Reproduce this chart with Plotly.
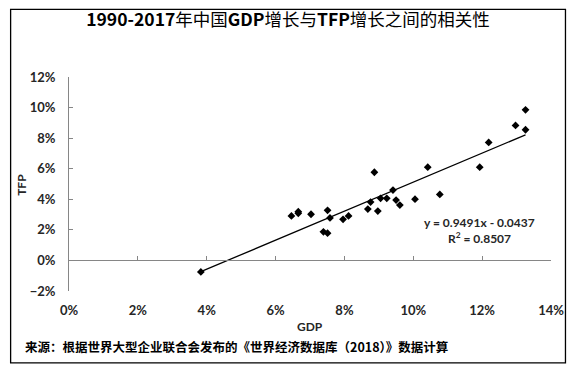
import plotly.graph_objects as go

# ---- data (percent) ----
gdp_growth = [3.83, 6.46, 6.66, 6.66, 7.03, 7.51, 7.58, 7.39, 7.51, 7.96, 8.12, 8.68, 8.76, 8.87,
              8.97, 9.05, 9.23, 9.41, 9.50, 9.61, 10.05, 10.42, 10.77, 11.93, 12.19, 12.97, 13.26, 13.26]
tfp_growth = [-0.75, 2.91, 3.19, 3.08, 3.02, 3.28, 2.78, 1.87, 1.78, 2.69, 2.91, 3.36, 3.82, 5.77,
              3.23, 4.06, 4.06, 4.60, 3.95, 3.62, 4.01, 6.10, 4.32, 6.10, 7.72, 8.83, 9.85, 8.55]
slope = 0.9491
intercept = -0.0437
r_squared = 0.8507
x_ticks = [0, 0.02, 0.04, 0.06, 0.08, 0.10, 0.12, 0.14]
y_ticks = [-0.02, 0, 0.02, 0.04, 0.06, 0.08, 0.10, 0.12]

title_text = "<b>1990-2017</b>年中国<b>GDP</b>增长与<b>TFP</b>增长之间的相关性"
source_text = "来源：根据世界大型企业联合会发布的《世界经济数据库（2018）》数据计算"

x = [v / 100 for v in gdp_growth]
y = [v / 100 for v in tfp_growth]
x_fit = [min(x), max(x)]
y_fit = [slope * v + intercept for v in x_fit]

# page body has an 8px margin; figure is placed at (8, 8) in the window
OFF = 8
W, H = 575 - OFF, 371 - OFF
L, R, T, B = 68.5 - OFF, 551.5 - OFF, 76.5 - OFF, 291.0 - OFF
pw, ph = R - L, B - T


def px(xp):
    return (xp - OFF - L) / pw


def py(yp):
    return (B - (yp - OFF)) / ph


AXC = "#868686"
TXT = "#262626"
tick_font = dict(family="Lato, 'Noto Sans', sans-serif", size=13, color=TXT, weight="bold")

fig = go.Figure()
fig.add_trace(go.Scatter(x=x_fit, y=y_fit, mode="lines", xaxis="x2", yaxis="y",
                         line=dict(color="#000000", width=1.3), hoverinfo="skip", showlegend=False))
fig.add_trace(go.Scatter(x=x, y=y, mode="markers",
                         marker=dict(symbol="diamond", size=6, color="#000000"),
                         showlegend=False))

y_lo, y_hi = y_ticks[0], y_ticks[-1]
fig.update_layout(
    width=W, height=H,
    margin=dict(l=L, r=W - R, t=T, b=H - B),
    paper_bgcolor="white", plot_bgcolor="white",
    title=dict(text=title_text, x=px(288), xref="paper", xanchor="center",
               y=1 - (20 - OFF) / H, yref="container", yanchor="middle",
               font=dict(family="'Noto Sans CJK SC', sans-serif", size=17.5, color="#000000")),
    xaxis=dict(range=[x_ticks[0], x_ticks[-1]], tickvals=x_ticks, tickformat=".0%",
               showline=False, ticks="", showgrid=False, zeroline=False,
               tickfont=tick_font, ticklabelstandoff=10),
    xaxis2=dict(range=[x_ticks[0], x_ticks[-1]], tickvals=x_ticks, overlaying="x",
                anchor="free", position=(0 - y_lo) / (y_hi - y_lo), side="bottom",
                showline=True, linecolor=AXC, linewidth=1, ticks="inside", ticklen=4,
                tickcolor=AXC, showticklabels=False, showgrid=False, zeroline=False),
    yaxis=dict(range=[y_lo, y_hi], tickvals=y_ticks, tickformat=".0%",
               showline=True, linecolor=AXC, linewidth=1, ticks="inside", ticklen=4,
               tickcolor=AXC, showgrid=False, zeroline=False,
               tickfont=tick_font, ticklabelstandoff=10),
    shapes=[dict(type="rect", xref="paper", yref="paper",
                 x0=px(10), x1=px(566), y0=py(363), y1=py(OFF + 0.8),
                 line=dict(color="#000000", width=1.3), fillcolor="rgba(0,0,0,0)")],
    annotations=[
        dict(text="GDP", x=px(310), y=py(327), xref="paper", yref="paper", showarrow=False,
             xanchor="center", yanchor="middle",
             font=dict(family="Lato, sans-serif", size=12, color=TXT, weight="bold")),
        dict(text="TFP", x=px(21), y=py(185), xref="paper", yref="paper", showarrow=False,
             textangle=-90, xanchor="center", yanchor="middle",
             font=dict(family="Lato, sans-serif", size=12, color=TXT, weight="bold")),
        dict(text=f"y = {slope}x - {abs(intercept)}", x=px(480), y=py(222.5), xref="paper",
             yref="paper", showarrow=False, xanchor="center", yanchor="middle",
             font=dict(family="Lato, sans-serif", size=12, color=TXT, weight="bold")),
        dict(text=f"R<sup>2</sup> = {r_squared}", x=px(480), y=py(237.5), xref="paper",
             yref="paper", showarrow=False, xanchor="center", yanchor="middle",
             font=dict(family="Lato, sans-serif", size=12, color=TXT, weight="bold")),
        dict(text=f"<b>{source_text}</b>", x=px(22), y=py(347), xref="paper", yref="paper",
             showarrow=False, xanchor="left", yanchor="middle",
             font=dict(family="'Noto Sans CJK SC', sans-serif", size=12.5, color="#000000")),
    ],
)

fig.write_html("out.html", config={"displayModeBar": False})
